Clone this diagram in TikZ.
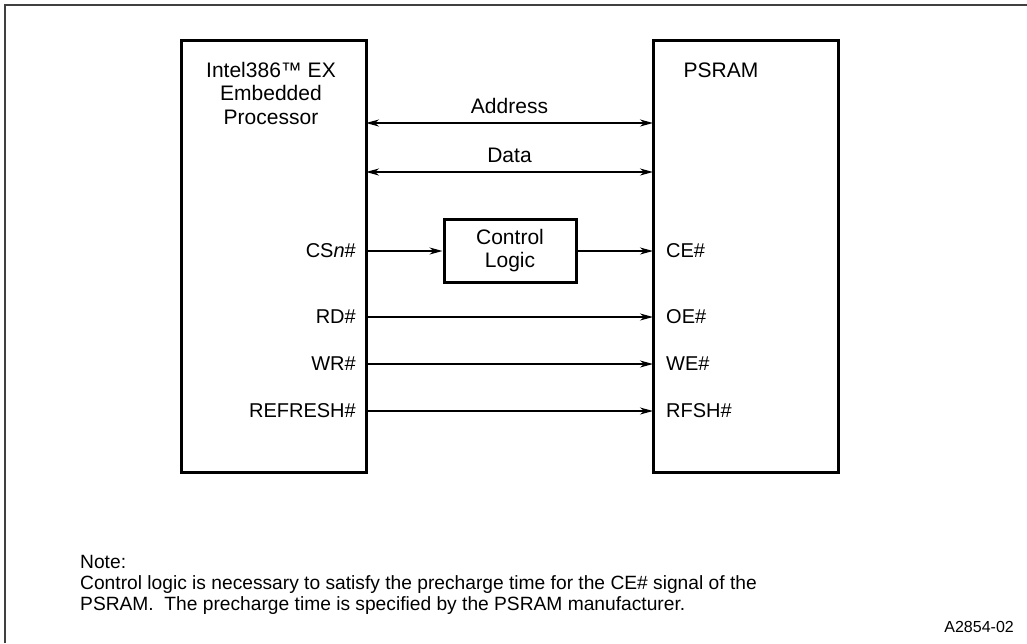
\documentclass[tikz,border=0pt]{standalone}
\usepackage{fontspec}
\setmainfont{Liberation Sans}
\usetikzlibrary{arrows.meta}
\begin{document}
\begin{tikzpicture}[x=1pt,y=-1pt,
  blk/.style={draw=black,line width=3pt},
  sig/.style={line width=1.3pt,-{Stealth[length=13pt,width=7pt,inset=4pt]}},
  bus/.style={line width=1.3pt,{Stealth[length=13pt,width=7pt,inset=4pt]}-{Stealth[length=13pt,width=7pt,inset=4pt]}},
  txt/.style={font=\fontsize{21}{23.5}\selectfont,inner sep=0pt},
  lbl/.style={font=\fontsize{20}{23}\selectfont,inner sep=0pt}]
\useasboundingbox (0,0) rectangle (1027,643);
\draw[line width=2pt,color=black!75] (5,643) -- (5,5) -- (1027,5);
% boxes
\draw[blk] (181,40) rectangle (366,472);
\draw[blk] (653,40) rectangle (838,472);
\node[txt,align=center] (cpu) at (271,93) {Intel386™ EX\\Embedded\\Processor};
\node[txt] (ram) at (721,70) {PSRAM};
\node[blk,txt,minimum width=132pt,minimum height=63pt,align=center,font=\fontsize{21}{23}\selectfont] (cl) at (510,251) {Control\\Logic};
% buses
\coordinate (a1) at (366,123); \coordinate (a2) at (653,123);
\coordinate (d1) at (366,172); \coordinate (d2) at (653,172);
\draw[bus] (a1) -- node[txt,above=9pt] (addr) {Address} (a2);
\draw[bus] (d1) -- node[txt,above=9pt] (data) {Data} (d2);
% signals
\coordinate (cs) at (366,251); \coordinate (ce) at (653,251);
\coordinate (rd) at (366,317); \coordinate (oe) at (653,317);
\coordinate (wr) at (366,364); \coordinate (we) at (653,364);
\coordinate (rf) at (366,411); \coordinate (rs) at (653,411);
\draw[sig] (cs) -- (cl.west);
\draw[sig] (cl.east) -- (ce);
\draw[sig] (rd) -- (oe);
\draw[sig] (wr) -- (we);
\draw[sig] (rf) -- (rs);
\node[lbl,anchor=east] (lcs) at (356,251) {CS\textit{n}\#};
\node[lbl,anchor=east] (lrd) at (356,317) {RD\#};
\node[lbl,anchor=east] (lwr) at (356,364) {WR\#};
\node[lbl,anchor=east] (lrf) at (356,411) {REFRESH\#};
\node[lbl,anchor=west] (lce) at (666,251) {CE\#};
\node[lbl,anchor=west] (loe) at (666,317) {OE\#};
\node[lbl,anchor=west] (lwe) at (666,364) {WE\#};
\node[lbl,anchor=west] (lrs) at (666,411) {RFSH\#};
% note
\node[txt,anchor=north west,align=left,font=\fontsize{19.2}{21}\selectfont] (note) at (80,555) {Note:\\Control logic is necessary to satisfy the precharge time for the CE\# signal of the\\PSRAM.\ \ The precharge time is specified by the PSRAM manufacturer.};
\node[txt,anchor=east,font=\fontsize{16}{19}\selectfont] (fig) at (1014,627) {A2854-02};
\end{tikzpicture}
\end{document}
